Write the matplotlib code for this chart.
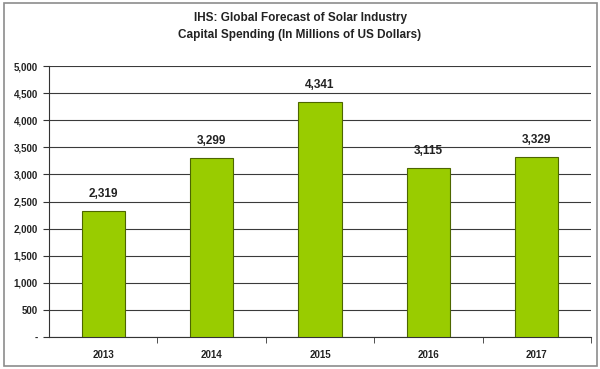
import matplotlib
matplotlib.use('Agg')
import matplotlib.pyplot as plt
from matplotlib.patches import Rectangle
from matplotlib.ticker import FuncFormatter

years = ['2013', '2014', '2015', '2016', '2017']
spending = [2319, 3299, 4341, 3115, 3329]
yticks = [0, 500, 1000, 1500, 2000, 2500, 3000, 3500, 4000, 4500, 5000]

plt.rcParams['font.family'] = ['Liberation Sans', 'DejaVu Sans']

fig = plt.figure(figsize=(6, 3.69), dpi=100)
ax = fig.add_axes([0.0817, 0.0867, 0.9033, 0.7343])

x = range(len(years))
ax.bar(x, spending, width=0.4, color='#99cc00', edgecolor='#4d6600', linewidth=0.8, zorder=3)

# value labels above bars
for i, v in enumerate(spending):
    ax.text(i, v + 200, f'{v:,}', ha='center', va='bottom', fontsize=8.5, fontweight='bold', color='#222222')

ax.set_xlim(-0.5, len(years) - 0.5)
ax.set_ylim(0, 5000)
ax.set_yticks(yticks)
ax.yaxis.set_major_formatter(FuncFormatter(lambda v, p: '-' if v == 0 else f'{int(v):,}'))
ax.set_xticks(list(x))
ax.set_xticklabels(years)
ax.set_xticks([i + 0.5 for i in range(len(years))], minor=True)
ax.tick_params(axis='x', which='major', length=0, pad=9)
ax.tick_params(axis='x', which='minor', length=4, direction='out', color='#333333')
ax.tick_params(axis='y', length=4, direction='out', color='#333333', pad=4)
for lab in ax.get_xticklabels() + ax.get_yticklabels():
    lab.set_fontsize(7)
    lab.set_fontweight('bold')
    lab.set_color('#222222')

ax.yaxis.grid(True, color='#3a3a3a', linewidth=0.8, zorder=0)
ax.set_axisbelow(True)
for s in ['top', 'right']:
    ax.spines[s].set_visible(False)
ax.spines['left'].set_color('#333333')
ax.spines['bottom'].set_color('#333333')
ax.spines['left'].set_linewidth(0.8)
ax.spines['bottom'].set_linewidth(0.8)

fig.text(0.5, 0.950, 'IHS: Global Forecast of Solar Industry', ha='center', va='center',
         fontsize=8.5, fontweight='bold', color='#222222')
fig.text(0.5, 0.905, 'Capital Spending (In Millions of US Dollars)', ha='center', va='center',
         fontsize=8.5, fontweight='bold', color='#222222')

# outer frame
fig.patches.append(Rectangle((4 / 600, 3 / 369), 593 / 600, 363 / 369, transform=fig.transFigure,
                             fill=False, edgecolor='#8c8c8c', linewidth=1.2))

fig.savefig('out.png', dpi=100)
